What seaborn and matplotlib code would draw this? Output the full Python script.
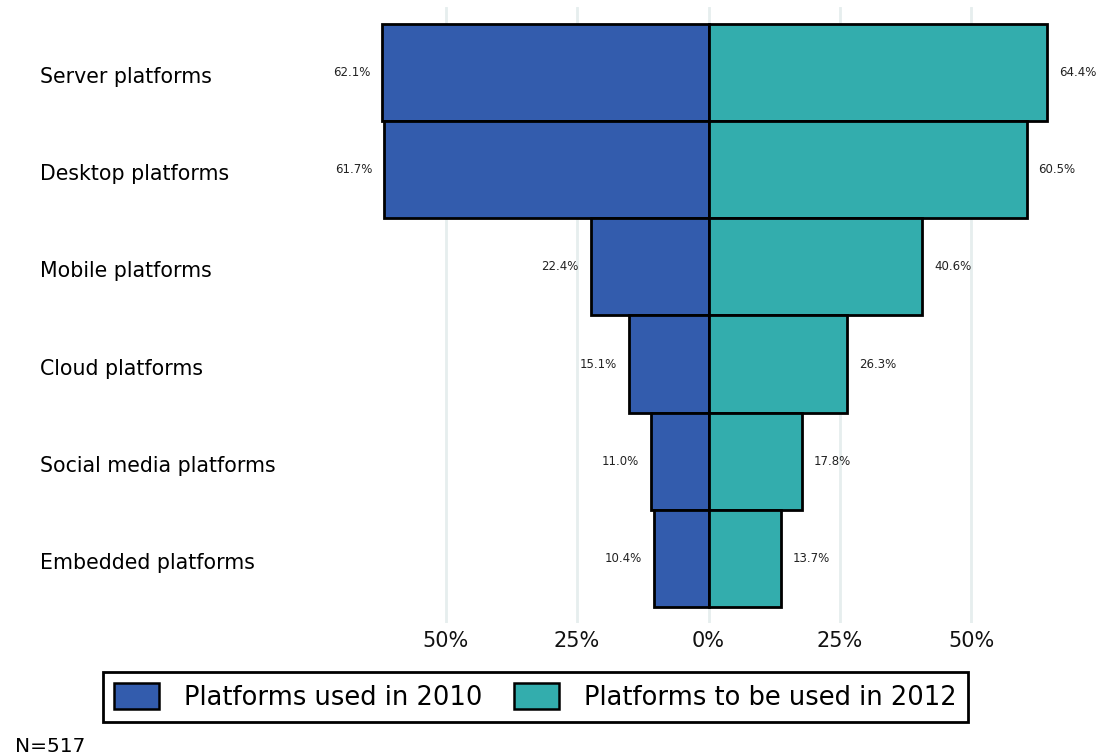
import matplotlib
matplotlib.use("Agg")
import matplotlib.pyplot as plt
import seaborn as sns
import pandas as pd
from matplotlib.patches import Patch
import matplotlib.transforms as mtransforms

categories = ["Server platforms", "Desktop platforms", "Mobile platforms",
              "Cloud platforms", "Social media platforms", "Embedded platforms"]
used_2010 = [62.1, 61.7, 22.4, 15.1, 11.0, 10.4]
to_use_2012 = [64.4, 60.5, 40.6, 26.3, 17.8, 13.7]
tick_values = [-50, -25, 0, 25, 50]
tick_labels = ["50%", "25%", "0%", "25%", "50%"]
series_names = ["Platforms used in 2010", "Platforms to be used in 2012"]

BLUE = "#335CAD"
TEAL = "#33ADAD"

sns.set_theme(style="white")
plt.rcParams['font.family'] = ['DejaVu Sans']
plt.rcParams['text.color'] = 'black'

df = pd.DataFrame({"category": categories,
                   "left": [-v for v in used_2010],
                   "right": to_use_2012})

W, H = 1101, 756
fig = plt.figure(figsize=(W / 100, H / 100), dpi=100)
ax_left, ax_right = 330 / W, 1087 / W
ax_top, ax_bot = 7, 623
ax = fig.add_axes([ax_left, 1 - ax_bot / H, ax_right - ax_left, (ax_bot - ax_top) / H])

sns.barplot(data=df, y="category", x="left", orient="h", color=BLUE, width=1.0,
            edgecolor="black", linewidth=2.0, saturation=1, ax=ax, zorder=3)
sns.barplot(data=df, y="category", x="right", orient="h", color=TEAL, width=1.0,
            edgecolor="black", linewidth=2.0, saturation=1, ax=ax, zorder=3)

ax.set_xlim(-72, 72)
bar_top, bar_bot = 24, 607
unit = (bar_bot - bar_top) / 6
ax.set_ylim(5.5 + (ax_bot - bar_bot) / unit, -0.5 - (bar_top - ax_top) / unit)

for s in ax.spines.values():
    s.set_visible(False)
ax.set_xticks(tick_values)
ax.set_xticklabels(tick_labels, fontsize=15, color="#111111")
ax.tick_params(axis="x", length=0, pad=6)
ax.set_yticks([])
ax.set_xlabel("")
ax.set_ylabel("")
for t in tick_values:
    ax.axvline(t, color="#E6EEEE", lw=2, zorder=0)

gap = 12 / ((ax_right - ax_left) * W / 144)
for i, (a, b) in enumerate(zip(used_2010, to_use_2012)):
    ax.text(-a - gap, i, f"{a:.1f}%", ha="right", va="center", fontsize=8.5, color="#222222")
    ax.text(b + gap, i, f"{b:.1f}%", ha="left", va="center", fontsize=8.5, color="#222222")

trans = mtransforms.blended_transform_factory(fig.transFigure, ax.transData)
for i, c in enumerate(categories):
    ax.text(40 / W, i + 0.046, c, ha="left", va="center", fontsize=14.8, color="black",
            transform=trans)

handles = [Patch(facecolor=BLUE, edgecolor="black", linewidth=1.8),
           Patch(facecolor=TEAL, edgecolor="black", linewidth=1.8)]
leg = fig.legend(handles, series_names, loc="center", ncol=2,
                 bbox_to_anchor=(535.5 / W, 1 - 697 / H), fontsize=18.5,
                 frameon=True, fancybox=False, framealpha=1,
                 handlelength=1.75, handleheight=1.2, handletextpad=0.97,
                 columnspacing=1.25, borderpad=0.42, borderaxespad=0)
frame = leg.get_frame()
frame.set_linewidth(2)
frame.set_edgecolor("black")
for t in leg.get_texts():
    t.set_color("black")

fig.text(15 / W, 1 - 746 / H, "N=517", ha="left", va="center", fontsize=14.5, color="black")

fig.savefig("out.png", dpi=100)
